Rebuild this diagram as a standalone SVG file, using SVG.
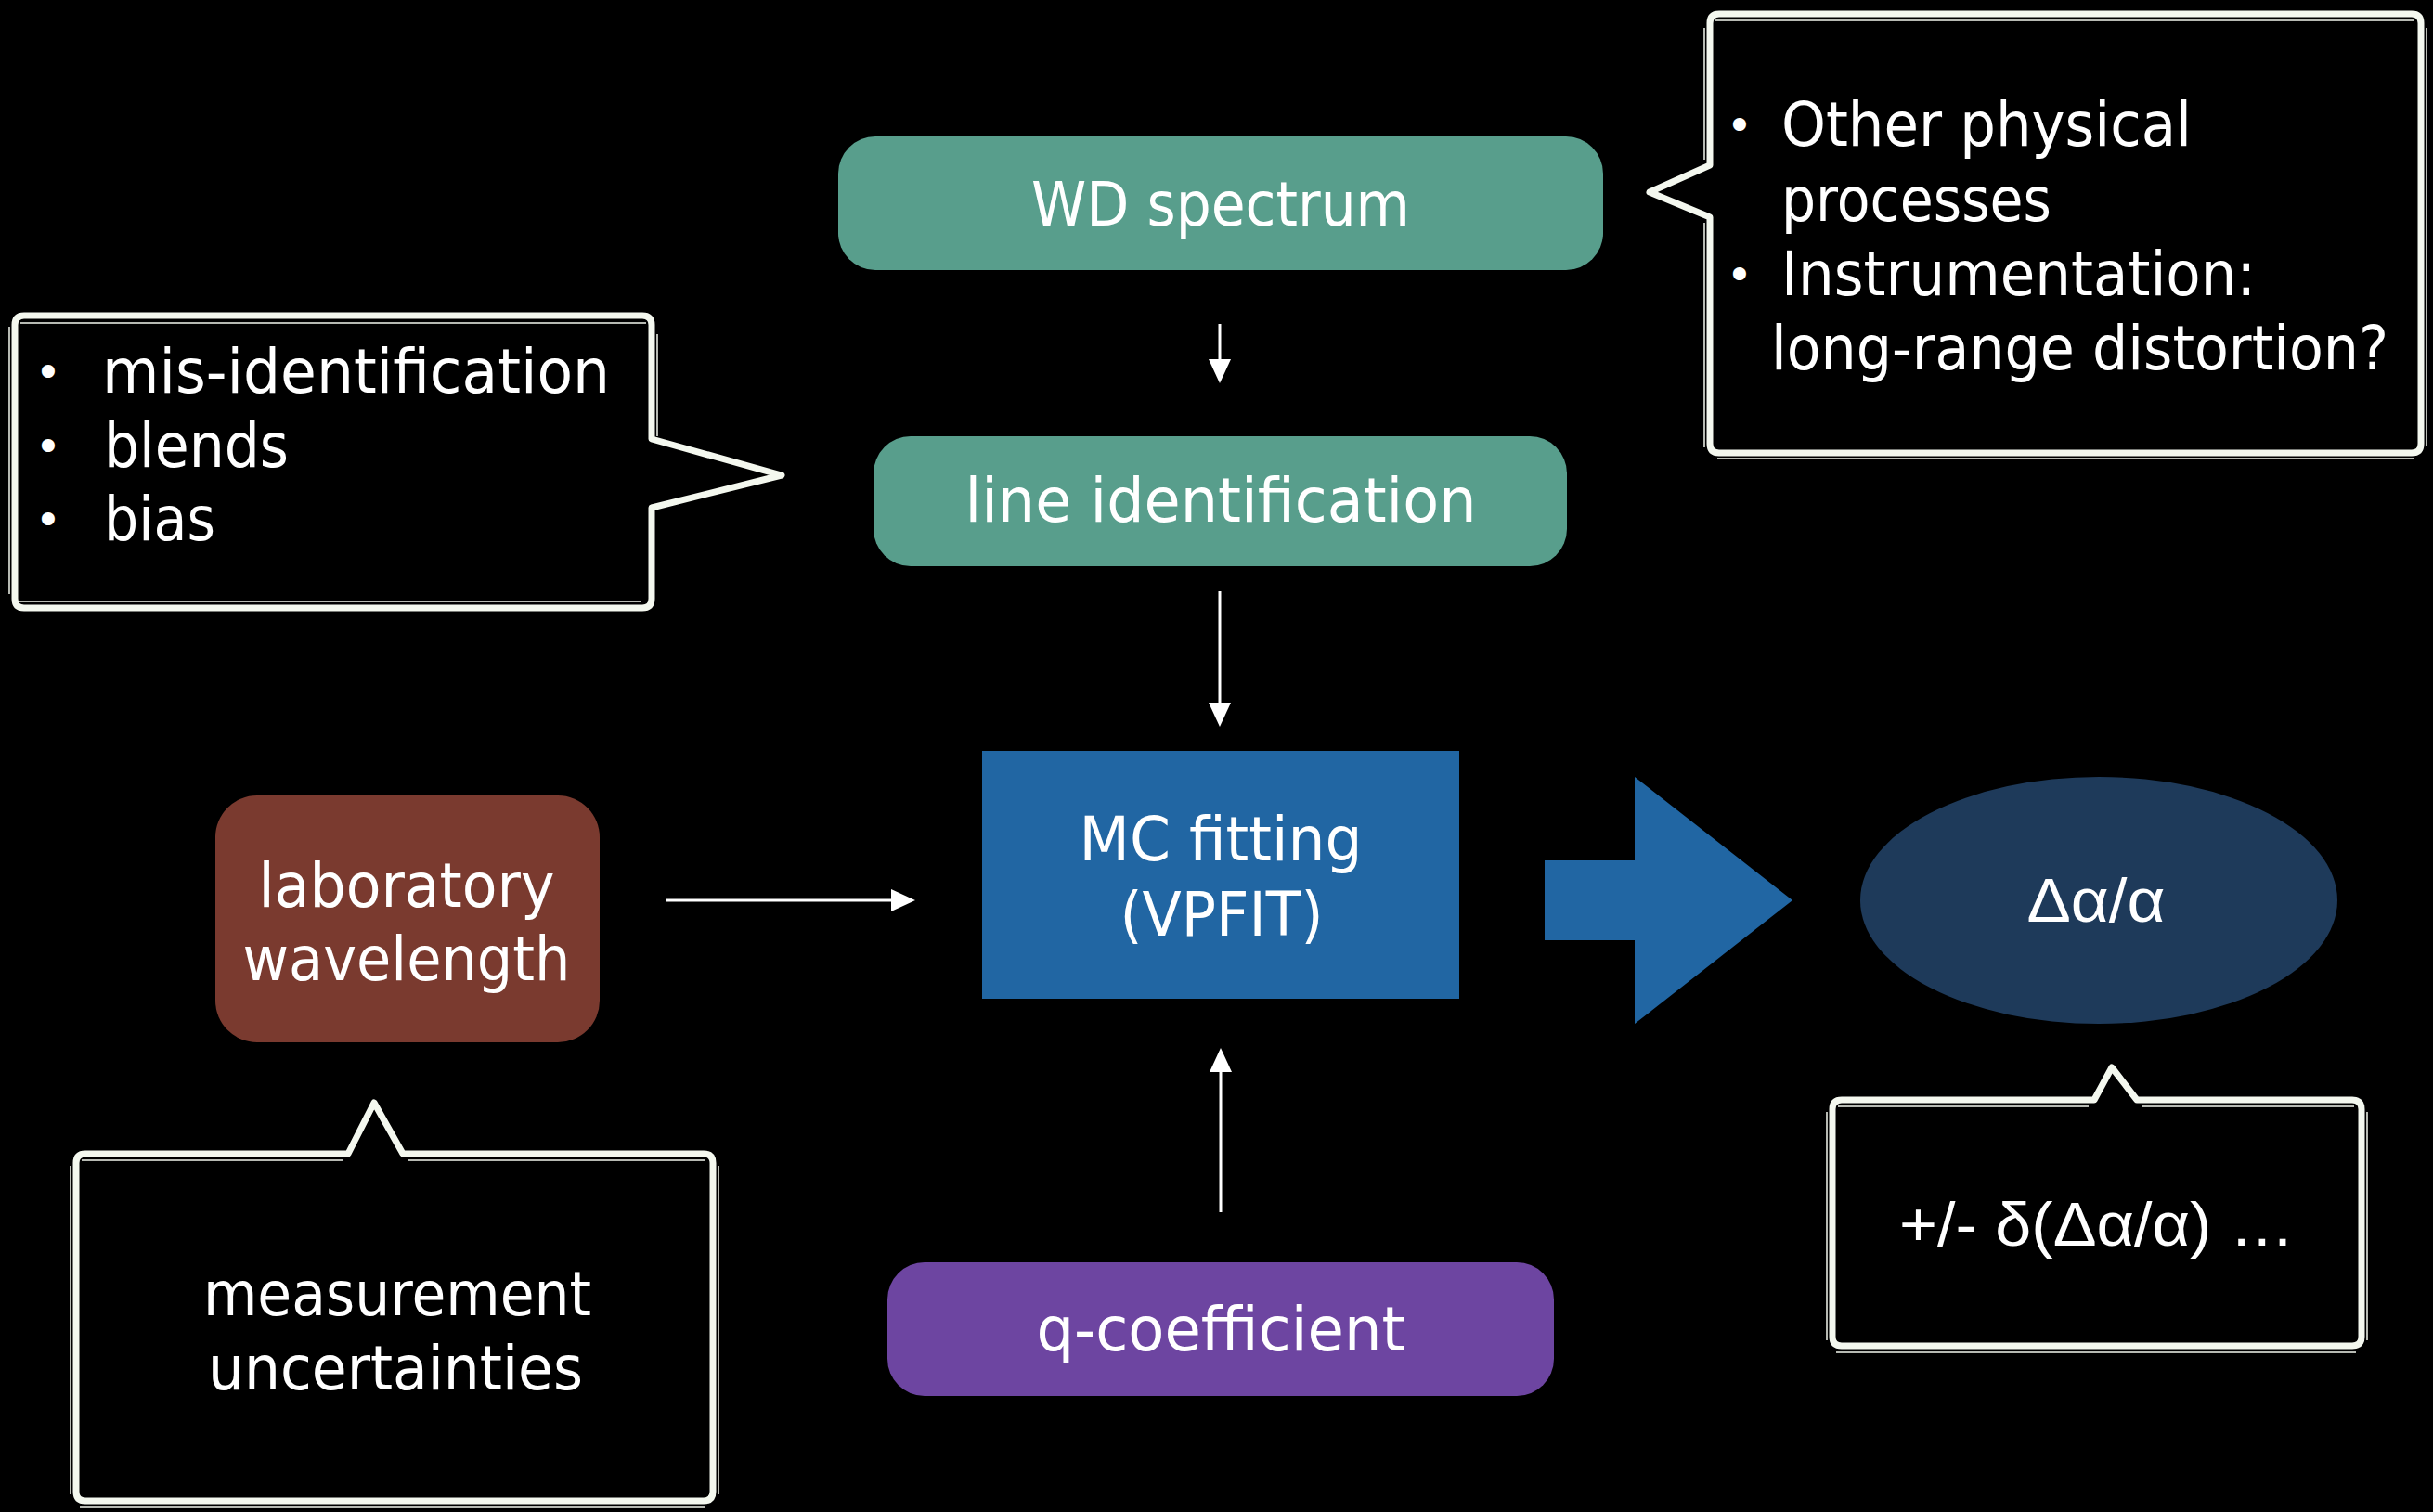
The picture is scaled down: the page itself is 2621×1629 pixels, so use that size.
<svg xmlns="http://www.w3.org/2000/svg" width="2621" height="1629" viewBox="0 0 2621 1629">
<style>
.t{font-family:"DejaVu Sans","Open Sans",sans-serif;fill:#ffffff;font-size:66px}
.c{font-size:65px}
.b{font-family:"DejaVu Sans","Open Sans",sans-serif;fill:#ffffff;font-size:48px}
.g{font-family:"Liberation Sans","DejaVu Sans",sans-serif;fill:#ffffff;font-size:66px}
.chalk{fill:#000;stroke:#f4f8ef;stroke-width:7;stroke-linejoin:round}
.chalk2{fill:none;stroke:#f4f8ef;stroke-width:2;opacity:0.75}
.conn{stroke:#ffffff;stroke-width:3;fill:none}
</style>
<defs>
<marker id="ah" viewBox="0 0 26 24" markerWidth="26" markerHeight="24" refX="0" refY="12" orient="auto" markerUnits="userSpaceOnUse">
<path d="M0,0 L26,12 L0,24 Z" fill="#ffffff"/>
</marker>
</defs>
<rect x="0" y="0" width="2621" height="1629" fill="#000000"/>

<g id="callout-misid">
<path class="chalk" d="M26 340 H692 Q702 340 702 350 V473 L842 512 L702 547 V645 Q702 655 692 655 H26 Q16 655 16 645 V350 Q16 340 26 340 Z"/>
<path class="chalk2" d="M22 348 H696 M708 360 V470 M20 648 H690 M10 352 V640 M700 552 V648"/>
<text class="b" x="52" y="418" text-anchor="middle">•</text>
<text class="b" x="52" y="498" text-anchor="middle">•</text>
<text class="b" x="52" y="577" text-anchor="middle">•</text>
<text class="t c" x="110" y="423" textLength="547" lengthAdjust="spacingAndGlyphs">mis-identification</text>
<text class="t c" x="112" y="503" textLength="199" lengthAdjust="spacingAndGlyphs">blends</text>
<text class="t c" x="112" y="582" textLength="120" lengthAdjust="spacingAndGlyphs">bias</text>
</g>

<g id="callout-other">
<path class="chalk" d="M1852 15 H2598 Q2608 15 2608 25 V478 Q2608 488 2598 488 H1852 Q1842 488 1842 478 V234 L1777 207 L1842 178 V25 Q1842 15 1852 15 Z"/>
<path class="chalk2" d="M1848 22 H2600 M2614 30 V480 M1850 494 H2600 M1836 30 V172 M1836 240 V482"/>
<text class="b" x="1874" y="152" text-anchor="middle">•</text>
<text class="b" x="1874" y="313" text-anchor="middle">•</text>
<text class="t c" x="1919" y="157" textLength="442" lengthAdjust="spacingAndGlyphs">Other physical</text>
<text class="t c" x="1919" y="238" textLength="291" lengthAdjust="spacingAndGlyphs">processes</text>
<text class="t c" x="1919" y="318" textLength="511" lengthAdjust="spacingAndGlyphs">Instrumentation:</text>
<text class="t c" x="1908" y="398" textLength="665" lengthAdjust="spacingAndGlyphs">long-range distortion?</text>
</g>

<g id="callout-measure">
<path class="chalk" d="M92 1243 H375 L403 1188 L434 1243 H758 Q768 1243 768 1253 V1607 Q768 1617 758 1617 H92 Q82 1617 82 1607 V1253 Q82 1243 92 1243 Z"/>
<path class="chalk2" d="M88 1250 H370 M440 1250 H760 M774 1256 V1610 M86 1624 H760 M76 1256 V1610"/>
<text class="t c" x="219" y="1417" textLength="418" lengthAdjust="spacingAndGlyphs">measurement</text>
<text class="t c" x="224" y="1497" textLength="404" lengthAdjust="spacingAndGlyphs">uncertainties</text>
</g>

<g id="callout-delta">
<path class="chalk" d="M1984 1185 H2256 L2275 1150 L2302 1185 H2534 Q2544 1185 2544 1195 V1440 Q2544 1450 2534 1450 H1984 Q1974 1450 1974 1440 V1195 Q1974 1185 1984 1185 Z"/>
<path class="chalk2" d="M1980 1192 H2250 M2308 1192 H2536 M2550 1198 V1444 M1978 1457 H2538 M1968 1198 V1444"/>
<text class="g" x="2046" y="1342" textLength="426" lengthAdjust="spacingAndGlyphs">+/- δ(Δα/α) …</text>
</g>

<g id="node-wd">
<rect x="903" y="147" width="824" height="144" rx="40" fill="#589e8c"/>
<text class="t" x="1315" y="243" text-anchor="middle" textLength="408" lengthAdjust="spacingAndGlyphs">WD spectrum</text>
</g>

<g id="node-lineid">
<rect x="941" y="470" width="747" height="140" rx="40" fill="#589e8c"/>
<text class="t" x="1315" y="562" text-anchor="middle" textLength="551" lengthAdjust="spacingAndGlyphs">line identification</text>
</g>

<g id="node-mc">
<rect x="1058" y="809" width="514" height="267" fill="#2166a3"/>
<text class="t" x="1315" y="927" text-anchor="middle" textLength="305" lengthAdjust="spacingAndGlyphs">MC fitting</text>
<text class="t" x="1316" y="1008" text-anchor="middle" textLength="219" lengthAdjust="spacingAndGlyphs">(VPFIT)</text>
</g>

<g id="node-lab">
<rect x="232" y="857" width="414" height="266" rx="45" fill="#7a3a2f"/>
<text class="t" x="438" y="977" text-anchor="middle" textLength="319" lengthAdjust="spacingAndGlyphs">laboratory</text>
<text class="t" x="438" y="1056" text-anchor="middle" textLength="353" lengthAdjust="spacingAndGlyphs">wavelength</text>
</g>

<g id="node-q">
<rect x="956" y="1360" width="718" height="144" rx="40" fill="#6d45a1"/>
<text class="t" x="1315" y="1455" text-anchor="middle" textLength="397" lengthAdjust="spacingAndGlyphs">q-coefficient</text>
</g>

<g id="node-result">
<ellipse cx="2261" cy="970" rx="257" ry="133" fill="#1e3a5a"/>
<text class="g" x="2258" y="993" text-anchor="middle" font-size="70" textLength="149" lengthAdjust="spacingAndGlyphs">Δα/α</text>
</g>

<g id="connectors">
<line class="conn" x1="1314" y1="349" x2="1314" y2="387" marker-end="url(#ah)"/>
<line class="conn" x1="1314" y1="637" x2="1314" y2="757" marker-end="url(#ah)"/>
<line class="conn" x1="718" y1="970" x2="960" y2="970" marker-end="url(#ah)"/>
<line class="conn" x1="1315" y1="1306" x2="1315" y2="1155" marker-end="url(#ah)"/>
<polygon points="1664,927 1761,927 1761,837 1931,970 1761,1103 1761,1013 1664,1013" fill="#2166a3"/>
</g>
</svg>
